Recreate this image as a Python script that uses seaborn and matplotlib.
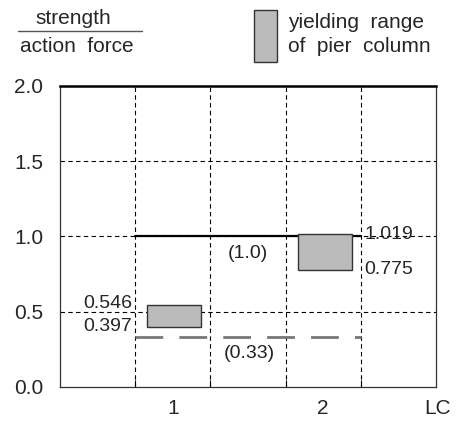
import matplotlib
matplotlib.use("Agg")
import matplotlib.pyplot as plt
import seaborn as sns
import pandas as pd
from matplotlib.patches import Rectangle
from matplotlib.lines import Line2D

# ---- data ----
load_cases = [1, 2]
range_low = [0.397, 0.775]
range_high = [0.546, 1.019]
ref_levels = [1.0, 0.33]
ref_labels = ["(1.0)", "(0.33)"]
x_tick_labels = ["1", "2"]
y_ticks = [0.0, 0.5, 1.0, 1.5, 2.0]

sns.set_style("white")
plt.rcParams['font.family'] = ['Liberation Sans', 'DejaVu Sans']

fig = plt.figure(figsize=(4.6, 4.21), dpi=100)
ax = fig.add_axes([60/460, 34/421, 376/460, 301/421])

df = pd.DataFrame({"LC": load_cases, "low": range_low, "high": range_high})
df["height"] = df["high"] - df["low"]

ax.set_xlim(0.25, 2.75)
ax.set_ylim(0, 2.0)

# grid
dash = (0, (4, 3))
for gx in [0.75, 1.25, 1.75, 2.25]:
    ax.axvline(gx, color="black", lw=0.8, ls=dash, zorder=1)
for gy in [0.5, 1.0, 1.5]:
    ax.axhline(gy, color="black", lw=0.8, ls=dash, zorder=1)

# reference lines
ax.plot([0.75, 2.25], [ref_levels[0]] * 2, color="black", lw=1.6, zorder=3)
ax.plot([0.75, 2.25], [ref_levels[1]] * 2, color="#777777", lw=2.0,
        ls=(0, (10, 5.8)), zorder=3)

# yielding ranges
ax.bar(df["LC"] + 0.01, df["height"], bottom=df["low"], width=0.36,
       color="#bbbbbb", edgecolor="#333333", linewidth=1.0, zorder=4)

# annotations
fs = 14
ax.text(0.73, 0.552, "0.546", ha="right", va="center", fontsize=fs, zorder=5)
ax.text(0.73, 0.40, "0.397", ha="right", va="center", fontsize=fs, zorder=5)
ax.text(1.51, 0.225, ref_labels[1], ha="center", va="center", fontsize=fs, color="#222222")
ax.text(1.50, 0.89, ref_labels[0], ha="center", va="center", fontsize=fs, color="#222222")
ax.text(2.275, 1.015, "1.019", ha="left", va="center", fontsize=fs, zorder=5)
ax.text(2.275, 0.784, "0.775", ha="left", va="center", fontsize=fs)

# axes styling
ax.set_yticks(y_ticks)
ax.set_yticklabels([f"{v:.1f}" for v in y_ticks], fontsize=15)
ax.set_xticks([0.75, 1.25, 1.75, 2.25], minor=False)
ax.set_xticklabels([])
ax.tick_params(axis="x", direction="in", length=5, width=0.8, color="black", bottom=True)
ax.tick_params(axis="y", length=0, pad=12)
for i, lab in zip(load_cases, x_tick_labels):
    ax.text(i, -0.08, lab, ha="center", va="top", fontsize=15, clip_on=False)
ax.text(2.76, -0.08, "LC", ha="center", va="top", fontsize=15, clip_on=False)

for s in ["left", "right", "bottom"]:
    ax.spines[s].set_color("#333333")
    ax.spines[s].set_linewidth(0.9)
ax.spines["top"].set_color("black")
ax.spines["top"].set_linewidth(1.8)

# header: fraction label
hfs = 15
fig.text(73/460, 1 - 18/421, "strength", ha="center", va="center", fontsize=hfs)
fig.add_artist(Line2D([18/460, 142/460], [1 - 31/421, 1 - 31/421],
                      color="#555555", lw=1.0, transform=fig.transFigure))
fig.text(77/460, 1 - 47/421, "action  force", ha="center", va="center", fontsize=hfs)

# legend
fig.add_artist(Rectangle((254/460, 1 - 62/421), 23/460, 52/421,
                         facecolor="#bbbbbb", edgecolor="#333333", lw=1.0,
                         transform=fig.transFigure))
fig.text(288/460, 1 - 23/421, "yielding  range", ha="left", va="center", fontsize=hfs)
fig.text(288/460, 1 - 47/421, "of  pier  column", ha="left", va="center", fontsize=hfs)

fig.savefig("out.png", dpi=100)
